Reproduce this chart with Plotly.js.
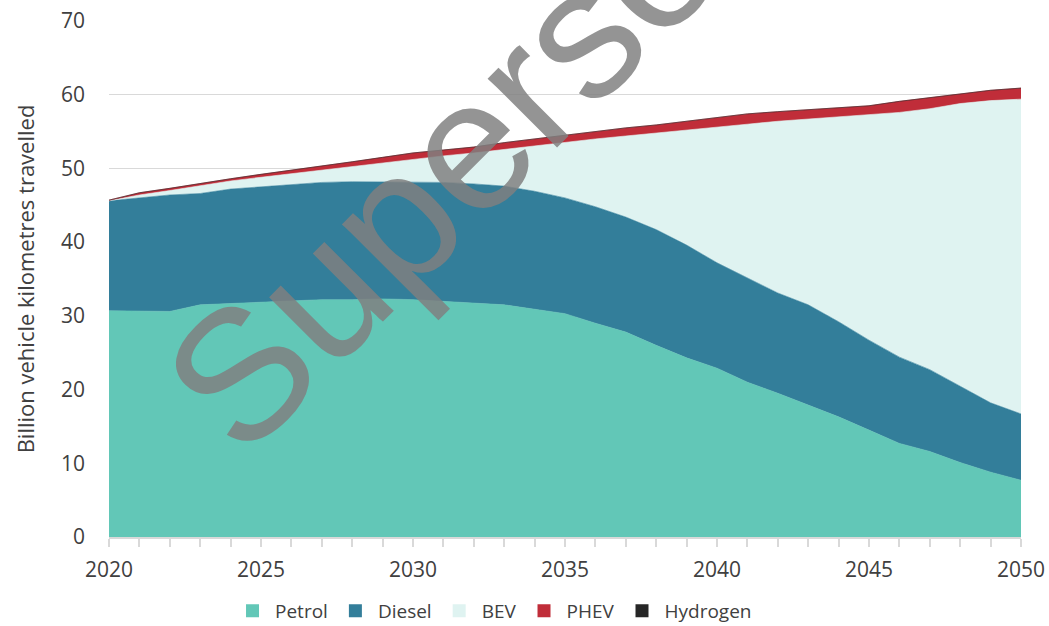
<!DOCTYPE html>
<html>
<head>
<meta charset="utf-8">
<script src="https://cdn.plot.ly/plotly-3.0.1.min.js"></script>
<style>
  html, body { margin: 0; padding: 0; background: #ffffff; }
  #chart { width: 1049px; height: 626px; }
</style>
</head>
<body>
<div id="chart"></div>
<script>
// Years
const years = [2020,2021,2022,2023,2024,2025,2026,2027,2028,2029,2030,2031,2032,2033,2034,2035,2036,2037,2038,2039,2040,2041,2042,2043,2044,2045,2046,2047,2048,2049,2050];

// Billion vehicle kilometres travelled, by fuel type (stacked)
const petrol = [30.7,30.7,30.6,31.5,31.7,31.9,32.1,32.2,32.2,32.3,32.2,32.0,31.8,31.5,30.9,30.3,29.0,27.8,26.0,24.3,22.9,21.0,19.5,17.9,16.3,14.5,12.7,11.6,10.1,8.8,7.7];
const diesel = [14.9,15.3,15.8,15.1,15.5,15.6,15.7,15.9,16.0,15.9,16.0,16.1,16.1,16.1,16.0,15.7,15.8,15.6,15.7,15.3,14.3,14.1,13.6,13.6,12.9,12.2,11.7,11.1,10.4,9.4,9.0];
const bev    = [0.0,0.4,0.6,1.1,1.1,1.3,1.5,1.7,2.1,2.6,3.1,3.6,4.2,5.0,6.2,7.6,9.2,11.0,13.1,15.6,18.3,20.9,23.3,25.2,27.8,30.5,33.2,35.4,38.3,41.0,42.7];
const phev   = [0.1,0.3,0.3,0.3,0.3,0.4,0.5,0.6,0.6,0.7,0.8,0.8,0.8,0.9,0.9,1.0,1.1,1.1,1.1,1.2,1.4,1.4,1.3,1.3,1.3,1.3,1.5,1.5,1.4,1.4,1.5];
const hydrogen = [0,0,0,0,0,0,0,0,0,0,0,0,0,0,0,0,0,0,0,0,0,0,0,0,0,0,0,0,0,0,0];

const seriesNames = ["Petrol","Diesel","BEV","PHEV","Hydrogen"];
const seriesValues = [petrol, diesel, bev, phev, hydrogen];
const seriesColors = ["#62c7b7","#337e9a","#dff3f1","#c02d39","#262626"];

const yTickVals = [0,10,20,30,40,50,60,70];
const yTitle = "Billion vehicle kilometres travelled";
const watermark = "Superseded";

const textColor = "#404040";
const font = "'Open Sans', 'DejaVu Sans', sans-serif";

const traces = [];
seriesNames.forEach((name, i) => {
  traces.push({
    type: "scatter",
    mode: "lines",
    x: years,
    y: seriesValues[i],
    name: name,
    stackgroup: "one",
    fillcolor: seriesColors[i],
    line: { width: 0.6, color: seriesColors[i] },
    showlegend: false,
    hoverinfo: "x+y+name"
  });
});
// legend entries with square symbols
seriesNames.forEach((name, i) => {
  traces.push({
    type: "scatter",
    mode: "markers",
    x: [null],
    y: [null],
    name: name,
    marker: { symbol: "square", size: 13, color: seriesColors[i] },
    showlegend: true,
    hoverinfo: "skip"
  });
});

const layout = {
  width: 1049,
  height: 626,
  margin: { l: 109, r: 28, t: 21, b: 89, autoexpand: false },
  paper_bgcolor: "#ffffff",
  plot_bgcolor: "#ffffff",
  font: { family: font, size: 20, color: textColor },
  showlegend: true,
  legend: {
    orientation: "h",
    x: 0.1327, xanchor: "left",
    y: -0.143, yanchor: "middle",
    traceorder: "normal",
    itemwidth: 35,
    font: { family: font, size: 19, color: textColor },
    bgcolor: "rgba(0,0,0,0)",
    itemclick: false
  },
  xaxis: {
    range: [2020, 2050],
    tickmode: "linear",
    tick0: 2020,
    dtick: 5,
    ticks: "outside",
    ticklen: 8,
    tickwidth: 2,
    tickcolor: "#d9d9d9",
    minor: { dtick: 1, ticks: "outside", ticklen: 8, tickwidth: 2, tickcolor: "#d9d9d9", showgrid: false },
    showgrid: false,
    zeroline: false,
    showline: true,
    linecolor: "#d9d9d9",
    linewidth: 2,
    tickfont: { family: font, size: 21, color: textColor },
    ticklabelstandoff: 5,
    fixedrange: true
  },
  yaxis: {
    range: [0, 70],
    tickmode: "array",
    tickvals: yTickVals,
    ticks: "",
    showgrid: true,
    gridcolor: "#d9d9d9",
    gridwidth: 1.5,
    zeroline: false,
    showline: false,
    tickfont: { family: font, size: 21, color: textColor },
    ticklabelstandoff: 23,
    title: { text: yTitle, font: { family: font, size: 22, color: textColor }, standoff: 20 },
    fixedrange: true
  },
  annotations: [{
    text: watermark,
    xref: "paper", yref: "paper",
    x: 0.4836, y: 0.9167,
    xanchor: "center", yanchor: "middle",
    showarrow: false,
    textangle: -45,
    font: { family: "'Liberation Sans', Arial, sans-serif", size: 185, color: "rgba(128,128,128,0.84)" }
  }]
};

Plotly.newPlot("chart", traces, layout, { displayModeBar: false, staticPlot: true });
</script>
</body>
</html>
